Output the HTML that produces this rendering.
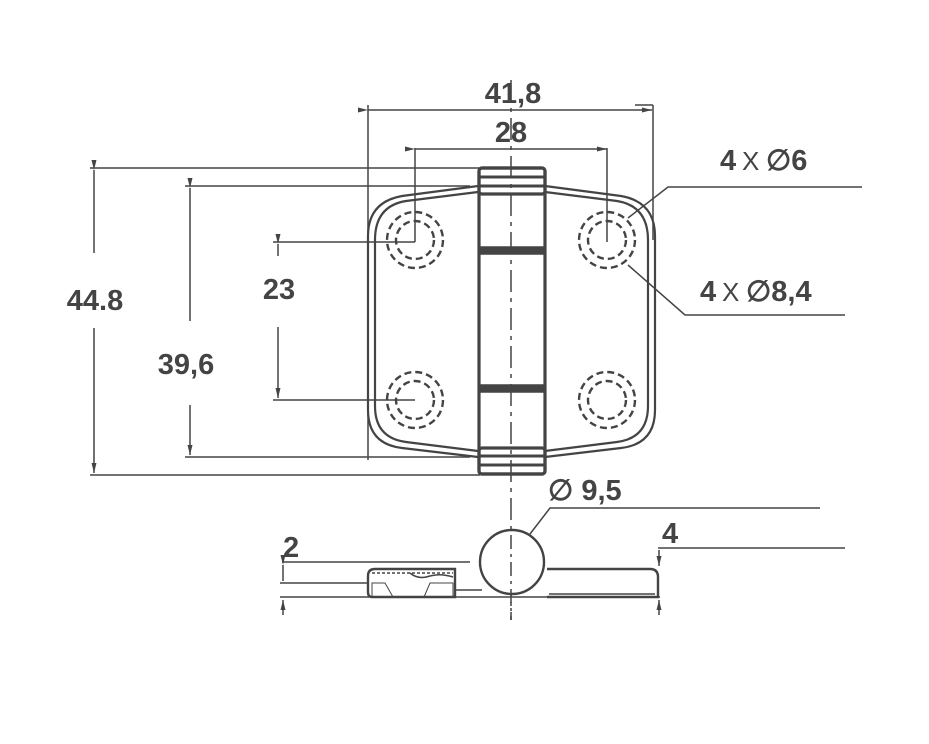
<!DOCTYPE html>
<html><head><style>body{margin:0;background:#fff}svg{display:block}text{font-family:"Liberation Sans",sans-serif;font-weight:bold;fill:#444}</style></head><body>
<svg width="929" height="744" viewBox="0 0 929 744" xmlns="http://www.w3.org/2000/svg">
<defs><marker id="a" markerUnits="userSpaceOnUse" markerWidth="10" markerHeight="6" refX="10" refY="3" orient="auto"><path d="M0,0.5 L10,3 L0,5.5 Z" fill="#444"/></marker></defs>
<g stroke="#444" fill="none" stroke-width="1.5">
<line x1="368" y1="105" x2="368" y2="460"/>
<line x1="653" y1="105" x2="653" y2="240"/>
<line x1="635" y1="105" x2="653" y2="105"/>
<line x1="368" y1="110" x2="652" y2="110" marker-start="url(#a)" marker-end="url(#a)"/>
<line x1="415" y1="148" x2="415" y2="242"/>
<line x1="607" y1="148" x2="607" y2="242"/>
<line x1="415" y1="149" x2="607" y2="149" marker-start="url(#a)" marker-end="url(#a)"/>
<line x1="90" y1="168" x2="480" y2="168"/>
<line x1="90" y1="475" x2="480" y2="475"/>
<line x1="94" y1="170" x2="94" y2="253" marker-start="url(#a)"/>
<line x1="94" y1="328" x2="94" y2="473" marker-end="url(#a)"/>
<line x1="185" y1="186" x2="470" y2="186"/>
<line x1="185" y1="457" x2="470" y2="457"/>
<line x1="190" y1="188" x2="190" y2="321" marker-start="url(#a)"/>
<line x1="190" y1="405" x2="190" y2="455" marker-end="url(#a)"/>
<line x1="273" y1="242" x2="415" y2="242"/>
<line x1="273" y1="400" x2="415" y2="400"/>
<line x1="278" y1="244" x2="278" y2="256" marker-start="url(#a)"/>
<line x1="278" y1="327" x2="278" y2="398" marker-end="url(#a)"/>
<polyline points="628,218 668,187 862,187"/>
<polyline points="628,265 685,315 845,315"/>
<polyline points="530,534 550,508 820,508"/>
<g stroke-width="2.2">
<path d="M478,186 L402,196 Q368,202 368,236 L368,410 Q368,444 402,448 L478,457"/>
<path d="M478,192 L406,201 Q375,206 375,240 L375,406 Q375,438 406,442 L478,451"/>
<path d="M545,186 L621,196 Q655,202 655,236 L655,410 Q655,444 621,448 L545,457"/>
<path d="M545,192 L617,201 Q648,206 648,240 L648,406 Q648,438 617,442 L545,451"/>
</g>
<g stroke-dasharray="7,4" stroke-width="2.4">
<circle cx="415" cy="240" r="19"/><circle cx="415" cy="240" r="28"/>
<circle cx="607" cy="240" r="19"/><circle cx="607" cy="240" r="28"/>
<circle cx="415" cy="400" r="19"/><circle cx="415" cy="400" r="28"/>
<circle cx="607" cy="400" r="19"/><circle cx="607" cy="400" r="28"/>
</g>
<rect x="479" y="168" width="66" height="306" rx="3" stroke-width="3.2"/>
<rect x="479" y="168" width="66" height="26" rx="3" stroke-width="3.2"/>
<rect x="479" y="448" width="66" height="26" rx="3" stroke-width="3.2"/>
<line x1="479" y1="177" x2="545" y2="177" stroke-width="3"/>
<line x1="479" y1="186" x2="545" y2="186" stroke-width="3"/>
<line x1="479" y1="456" x2="545" y2="456" stroke-width="3"/>
<line x1="479" y1="465" x2="545" y2="465" stroke-width="3"/>
<rect x="479" y="247" width="66" height="7" fill="#444"/>
<rect x="479" y="385" width="66" height="7" fill="#444"/>
<line x1="511" y1="80" x2="511" y2="620" stroke-dasharray="22,6,4,6"/>
<line x1="282" y1="562" x2="470" y2="562"/>
<line x1="280" y1="583" x2="368" y2="583"/>
<line x1="280" y1="597" x2="660" y2="597"/>
<line x1="658" y1="548" x2="845" y2="548"/>
<line x1="283" y1="565" x2="283" y2="581" marker-start="url(#a)"/>
<line x1="283" y1="615" x2="283" y2="600" marker-end="url(#a)"/>
<line x1="659" y1="550" x2="659" y2="566" marker-end="url(#a)"/>
<line x1="659" y1="615" x2="659" y2="600" marker-end="url(#a)"/>
<path d="M455,597 L372,597 Q368,597 368,592 L368,576 Q368,569 375,569 L455,569 Z" stroke-width="2.4"/>
<line x1="372" y1="573" x2="453" y2="573" stroke-dasharray="3,2"/>
<path d="M410,573 Q418,580 430,576 Q440,573 453,577"/>
<path d="M372,583 L385,583 L393,597 L372,597 Z M430,583 L453,583 L453,597 L424,597 Z" stroke-width="1"/>
<line x1="455" y1="590" x2="482" y2="590"/>
<path d="M547,569 L650,569 Q658,569 658,577 L658,597 L547,597" stroke-width="2.4"/>
<line x1="549" y1="594" x2="655" y2="594"/>
<circle cx="512" cy="562" r="32" stroke-width="2.4" fill="#fff"/>
<line x1="511" y1="535" x2="511" y2="620" stroke-dasharray="14,5,3,5"/>
</g>
<text x="513" y="103" font-size="29" text-anchor="middle">41,8</text>
<text x="511" y="142" font-size="29" text-anchor="middle">28</text>
<text x="95" y="310" font-size="29" text-anchor="middle">44.8</text>
<text x="186" y="374" font-size="29" text-anchor="middle">39,6</text>
<text x="279" y="299" font-size="29" text-anchor="middle">23</text>
<text x="720" y="170" font-size="29">4</text>
<text x="742" y="170" font-size="26" style="font-weight:normal">X</text>
<text x="766" y="170" font-size="29">∅6</text>
<text x="700" y="301" font-size="29">4</text>
<text x="722" y="301" font-size="26" style="font-weight:normal">X</text>
<text x="746" y="301" font-size="29">∅8,4</text>
<text x="548" y="500" font-size="29">∅ 9,5</text>
<text x="283" y="557" font-size="29">2</text>
<text x="662" y="543" font-size="29">4</text>
</svg>
</body></html>
